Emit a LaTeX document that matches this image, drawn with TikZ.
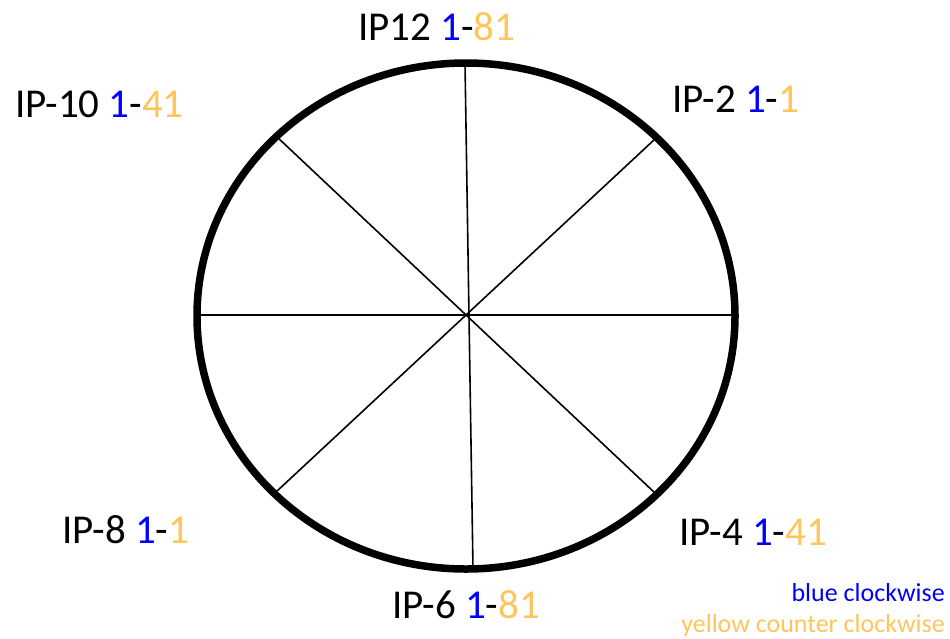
\documentclass[tikz,border=0pt]{standalone}
\usepackage{fontspec}
\setmainfont{Carlito}
\definecolor{cblue}{RGB}{0,0,255}
\definecolor{cyel}{RGB}{255,197,90}
\begin{document}
\begin{tikzpicture}[x=1pt,y=-1pt,
  lbl/.style={anchor=base west,inner sep=0pt,font=\fontsize{41}{49}\selectfont},
  legend/.style={anchor=base east,inner sep=0pt,font=\fontsize{26}{31}\selectfont},
  spoke/.style={line width=1.6pt,black}]
\useasboundingbox (0,0) rectangle (950,638);
\coordinate (c) at (467,315);
\coordinate (t) at (465,63);
\coordinate (b) at (473,569);
\coordinate (l) at (197,315);
\coordinate (r) at (735,315);
\coordinate (tl) at (276,136);
\coordinate (br) at (655,493);
\coordinate (tr) at (655,139);
\coordinate (bl) at (276,492);
\draw[spoke] (t) -- (b);
\draw[spoke] (l) -- (r);
\draw[spoke] (tl) -- (br);
\draw[spoke] (tr) -- (bl);
\draw[line width=7.5pt] (466,316) ellipse [x radius=269, y radius=253];
\node[lbl] (ip12) at (358,40) {IP12 \textcolor{cblue}{1}-\textcolor{cyel}{81}};
\node[lbl] (ip10) at (15,117) {IP-10 \textcolor{cblue}{1}-\textcolor{cyel}{41}};
\node[lbl] (ip2) at (672,112) {IP-2 \textcolor{cblue}{1}-\textcolor{cyel}{1}};
\node[lbl] (ip4) at (679,545) {IP-4 \textcolor{cblue}{1}-\textcolor{cyel}{41}};
\node[lbl] (ip8) at (62,543) {IP-8 \textcolor{cblue}{1}-\textcolor{cyel}{1}};
\node[lbl] (ip6) at (392,618) {IP-6 \textcolor{cblue}{1}-\textcolor{cyel}{81}};
\node[legend,text=cblue] (lg1) at (945,601) {blue clockwise};
\node[legend,text=cyel] (lg2) at (945,632) {yellow counter clockwise};
\end{tikzpicture}
\end{document}
